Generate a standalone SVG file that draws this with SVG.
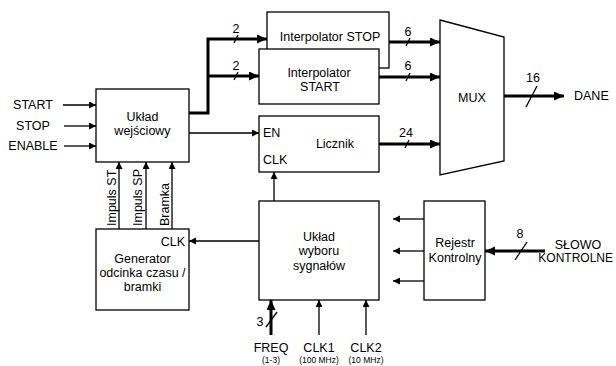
<svg xmlns="http://www.w3.org/2000/svg" width="616" height="366" viewBox="0 0 616 366">
<style>
  text { font-family: "Liberation Sans", Arial, sans-serif; font-size: 12.5px; fill: #000; }
  .c { text-anchor: middle; }
  .e { text-anchor: end; }
  .sm { font-size: 8.5px; }
  .box { fill: #fff; stroke: #000; stroke-width: 1.3; }
  .thin { stroke: #000; stroke-width: 1.3; fill: none; }
  .thick { stroke: #000; stroke-width: 3; fill: none; }
  .sl { stroke: #000; stroke-width: 1.3; }
</style>
<defs>
  <marker id="ah" markerUnits="userSpaceOnUse" markerWidth="8" markerHeight="8" refX="7" refY="3.5" orient="auto">
    <path d="M0,0 L7,3.5 L0,7 Z" fill="#000"/>
  </marker>
  <marker id="ahT" markerUnits="userSpaceOnUse" markerWidth="11" markerHeight="10" refX="10" refY="4.5" orient="auto">
    <path d="M0,0 L10,4.5 L0,9 Z" fill="#000"/>
  </marker>
</defs>
<rect width="616" height="366" fill="#fff"/>

<g id="connectors">
  <line class="thin" x1="63" y1="105" x2="96" y2="105" marker-end="url(#ah)"/>
  <line class="thin" x1="64" y1="126" x2="96" y2="126" marker-end="url(#ah)"/>
  <line class="thin" x1="64" y1="146" x2="96" y2="146" marker-end="url(#ah)"/>
  <polyline class="thick" points="189,113 208,113 208,39 267,39" marker-end="url(#ahT)"/>
  <line class="thick" x1="208" y1="76" x2="259" y2="76" marker-end="url(#ahT)"/>
  <line class="thin" x1="189" y1="133" x2="259" y2="133" marker-end="url(#ah)"/>
  <line class="thick" x1="389" y1="42" x2="440" y2="42" marker-end="url(#ahT)"/>
  <line class="thick" x1="379" y1="77" x2="440" y2="77" marker-end="url(#ahT)"/>
  <line class="thick" x1="379" y1="144" x2="440" y2="144" marker-end="url(#ahT)"/>
  <line class="thick" x1="504" y1="96" x2="564" y2="96" marker-end="url(#ahT)"/>
  <line class="thin" x1="119" y1="229" x2="119" y2="162" marker-end="url(#ah)"/>
  <line class="thin" x1="146" y1="229" x2="146" y2="162" marker-end="url(#ah)"/>
  <line class="thin" x1="172" y1="229" x2="172" y2="162" marker-end="url(#ah)"/>
  <line class="thin" x1="274" y1="201" x2="274" y2="172" marker-end="url(#ah)"/>
  <line class="thin" x1="259" y1="241" x2="189" y2="241" marker-end="url(#ah)"/>
  <line class="thin" x1="424" y1="219" x2="393" y2="219" marker-end="url(#ah)"/>
  <line class="thin" x1="424" y1="251" x2="393" y2="251" marker-end="url(#ah)"/>
  <line class="thin" x1="424" y1="281" x2="393" y2="281" marker-end="url(#ah)"/>
  <line class="thick" x1="545" y1="251" x2="485" y2="251" marker-end="url(#ahT)"/>
  <line class="thick" x1="271" y1="335" x2="271" y2="300" marker-end="url(#ahT)"/>
  <line class="thin" x1="319" y1="335" x2="319" y2="300" marker-end="url(#ah)"/>
  <line class="thin" x1="366" y1="335" x2="366" y2="300" marker-end="url(#ah)"/>
  <!-- bus slashes -->
  <line class="sl" x1="234" y1="43" x2="238" y2="35"/>
  <line class="sl" x1="234" y1="80" x2="238" y2="72"/>
  <line class="sl" x1="406" y1="46" x2="410" y2="38"/>
  <line class="sl" x1="406" y1="81" x2="410" y2="73"/>
  <line class="sl" x1="405" y1="148" x2="409" y2="140"/>
  <line class="sl" x1="526" y1="107" x2="537" y2="86"/>
  <line class="sl" x1="515" y1="260" x2="527" y2="242"/>
  <line class="sl" x1="266" y1="327" x2="277" y2="312"/>
  <text x="236" y="33" class="c">2</text>
  <text x="236" y="70" class="c">2</text>
  <text x="408" y="36" class="c">6</text>
  <text x="408" y="70" class="c">6</text>
  <text x="406" y="137" class="c">24</text>
  <text x="533" y="82" class="c">16</text>
  <text x="520" y="238" class="c">8</text>
  <text x="260" y="326" class="c">3</text>
</g>

<g id="inputs">
  <text x="33" y="109" class="c">START</text>
  <text x="33" y="130" class="c">STOP</text>
  <text x="33" y="150" class="c">ENABLE</text>
</g>

<g id="uklad-wejsciowy">
  <rect class="box" x="96" y="89" width="93" height="73"/>
  <text x="142.5" y="121" class="c">Układ</text>
  <text x="142.5" y="135" class="c">wejściowy</text>
</g>

<g id="interpolator-stop">
  <rect class="box" x="267" y="12" width="122" height="56"/>
  <text x="330" y="41" class="c">Interpolator STOP</text>
</g>

<g id="interpolator-start">
  <rect class="box" x="259" y="49" width="120" height="55"/>
  <text x="319" y="77" class="c">Interpolator</text>
  <text x="320" y="91" class="c">START</text>
</g>

<g id="licznik">
  <rect class="box" x="259" y="116" width="120" height="56"/>
  <text x="263" y="137">EN</text>
  <text x="263" y="164">CLK</text>
  <text x="335" y="148" class="c">Licznik</text>
</g>

<g id="mux">
  <polygon class="box" points="440,20 504,37 504,161 440,175"/>
  <text x="472" y="102" class="c">MUX</text>
</g>

<g id="dane">
  <text x="574" y="100">DANE</text>
</g>

<g id="sygnaly-generatora">
  <text transform="translate(116,226) rotate(-90)">Impuls ST</text>
  <text transform="translate(142,226) rotate(-90)">Impuls SP</text>
  <text transform="translate(169,226) rotate(-90)">Bramka</text>
</g>

<g id="generator">
  <rect class="box" x="96" y="229" width="93" height="81"/>
  <text x="185" y="246" class="e">CLK</text>
  <text x="142.5" y="263" class="c">Generator</text>
  <text x="142.5" y="277" class="c">odcinka czasu /</text>
  <text x="142.5" y="291" class="c">bramki</text>
</g>

<g id="uklad-wyboru">
  <rect class="box" x="259" y="201" width="120" height="99"/>
  <text x="319" y="241" class="c">Układ</text>
  <text x="319" y="255" class="c">wyboru</text>
  <text x="319" y="270" class="c">sygnałów</text>
</g>

<g id="rejestr">
  <rect class="box" x="424" y="201" width="61" height="99"/>
  <text x="455" y="247" class="c">Rejestr</text>
  <text x="455" y="262" class="c">Kontrolny</text>
</g>

<g id="slowo">
  <text x="578" y="249" class="c">SŁOWO</text>
  <text x="613" y="262" class="e" style="font-size:12px">KONTROLNE</text>
</g>

<g id="clk-inputs">
  <text x="271" y="352" class="c">FREQ</text>
  <text x="271" y="363" class="c sm">(1-3)</text>
  <text x="319" y="352" class="c">CLK1</text>
  <text x="319" y="363" class="c sm">(100 MHz)</text>
  <text x="366" y="352" class="c">CLK2</text>
  <text x="366" y="363" class="c sm">(10 MHz)</text>
</g>
</svg>
